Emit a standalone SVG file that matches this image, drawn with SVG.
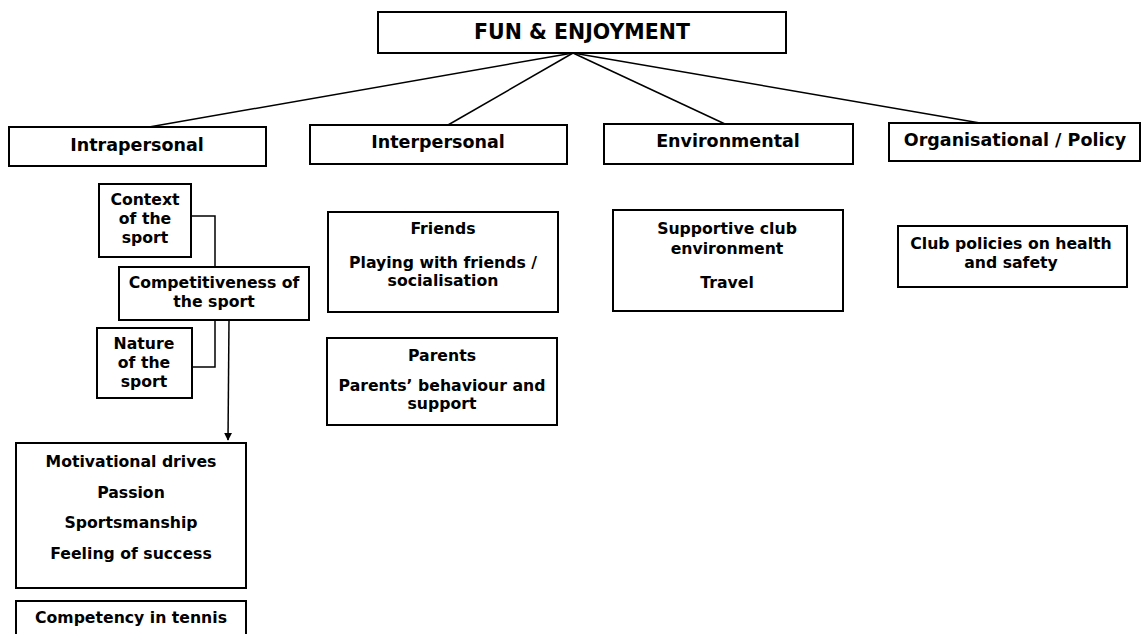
<svg xmlns="http://www.w3.org/2000/svg" width="1141" height="634" viewBox="0 0 1141 634">
  <style>
    .box { fill: #ffffff; stroke: #000000; stroke-width: 2; }
    .t { font-family: "DejaVu Sans", Verdana, sans-serif; font-weight: bold; fill: #000000; text-anchor: middle; }
    .title { font-size: 20.5px; }
    .head { font-size: 17.5px; }
    .body { font-size: 15.7px; }
    .link { fill: none; stroke: #000000; stroke-width: 1.5; }
  </style>
  <defs>
    <marker id="arrow" viewBox="0 0 10 10" refX="9" refY="5" markerWidth="8" markerHeight="8" markerUnits="userSpaceOnUse" orient="auto">
      <path d="M0,0 L10,5 L0,10 z" fill="#000000"/>
    </marker>
  </defs>
  <rect width="1141" height="634" fill="#ffffff"/>

  <!-- connectors -->
  <g id="connectors">
    <line class="link" x1="573" y1="53" x2="149" y2="127"/>
    <line class="link" x1="573" y1="53" x2="448" y2="125"/>
    <line class="link" x1="573" y1="53" x2="725" y2="124"/>
    <line class="link" x1="573" y1="53" x2="980" y2="123"/>
    <polyline class="link" points="191,216 215,216 215,267"/>
    <polyline class="link" points="215,320 215,367 192,367"/>
    <line class="link" x1="229" y1="320" x2="228" y2="440" marker-end="url(#arrow)"/>
  </g>

  <g id="fun-enjoyment">
    <rect class="box" x="378" y="12" width="408" height="41"/>
    <text class="t title" x="582" y="39">FUN &amp; ENJOYMENT</text>
  </g>

  <g id="intrapersonal">
    <rect class="box" x="9" y="127" width="257" height="39"/>
    <text class="t head" x="137" y="151">Intrapersonal</text>
  </g>
  <g id="interpersonal">
    <rect class="box" x="310" y="125" width="257" height="39"/>
    <text class="t head" x="438" y="148">Interpersonal</text>
  </g>
  <g id="environmental">
    <rect class="box" x="604" y="124" width="249" height="40"/>
    <text class="t head" x="728" y="147">Environmental</text>
  </g>
  <g id="organisational">
    <rect class="box" x="889" y="123" width="251" height="38"/>
    <text class="t head" x="1015" y="146">Organisational / Policy</text>
  </g>

  <g id="context">
    <rect class="box" x="99" y="184" width="92" height="73"/>
    <text class="t body" x="145" y="205">Context</text>
    <text class="t body" x="145" y="224">of the</text>
    <text class="t body" x="145" y="243">sport</text>
  </g>
  <g id="competitiveness">
    <rect class="box" x="119" y="267" width="190" height="53"/>
    <text class="t body" x="214" y="288">Competitiveness of</text>
    <text class="t body" x="214" y="307">the sport</text>
  </g>
  <g id="nature">
    <rect class="box" x="97" y="328" width="95" height="70"/>
    <text class="t body" x="144" y="349">Nature</text>
    <text class="t body" x="144" y="368">of the</text>
    <text class="t body" x="144" y="387">sport</text>
  </g>
  <g id="motivational">
    <rect class="box" x="16" y="443" width="230" height="145"/>
    <text class="t body" x="131" y="467">Motivational drives</text>
    <text class="t body" x="131" y="498">Passion</text>
    <text class="t body" x="131" y="528">Sportsmanship</text>
    <text class="t body" x="131" y="559">Feeling of success</text>
  </g>
  <g id="competency">
    <rect class="box" x="16" y="601" width="230" height="45"/>
    <text class="t body" x="131" y="623">Competency in tennis</text>
  </g>

  <g id="friends">
    <rect class="box" x="328" y="212" width="230" height="100"/>
    <text class="t body" x="443" y="234">Friends</text>
    <text class="t body" x="443" y="268">Playing with friends /</text>
    <text class="t body" x="443" y="286">socialisation</text>
  </g>
  <g id="parents">
    <rect class="box" x="327" y="338" width="230" height="87"/>
    <text class="t body" x="442" y="361">Parents</text>
    <text class="t body" x="442" y="391">Parents’ behaviour and</text>
    <text class="t body" x="442" y="409">support</text>
  </g>

  <g id="supportive">
    <rect class="box" x="613" y="210" width="230" height="101"/>
    <text class="t body" x="727" y="234">Supportive club</text>
    <text class="t body" x="727" y="254">environment</text>
    <text class="t body" x="727" y="288">Travel</text>
  </g>

  <g id="club-policies">
    <rect class="box" x="898" y="226" width="229" height="61"/>
    <text class="t body" x="1011" y="249">Club policies on health</text>
    <text class="t body" x="1011" y="268">and safety</text>
  </g>
</svg>
